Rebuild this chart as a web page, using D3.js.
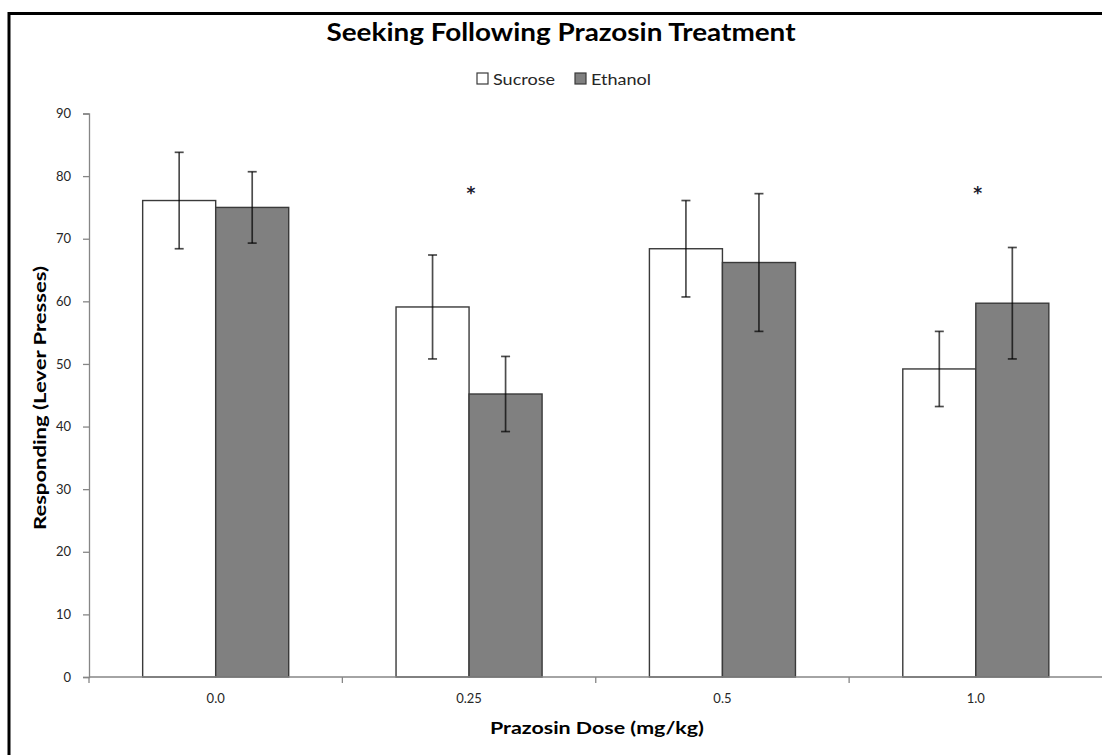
<!DOCTYPE html>
<html>
<head>
<meta charset="utf-8">
<script src="https://cdn.jsdelivr.net/npm/d3@7"></script>
<style>
  html, body { margin: 0; padding: 0; background: #fff; overflow: hidden; }
  svg { display: block; font-family: Lato, "Open Sans", sans-serif; }
</style>
</head>
<body>
<svg id="chart" width="1102" height="755"></svg>
<script>
// ---- data ----
const doses = ["0.0", "0.25", "0.5", "1.0"];
const seriesNames = ["Sucrose", "Ethanol"];
const sucrose = [76.1, 59.1, 68.4, 49.2];
const sucroseErr = [7.7, 8.3, 7.7, 6.0];
const ethanol = [75.0, 45.2, 66.2, 59.7];
const ethanolErr = [5.7, 6.0, 11.0, 8.9];
const significant = ["0.25", "1.0"];
const yTicks = [0, 10, 20, 30, 40, 50, 60, 70, 80, 90];
const titleText = "Seeking Following Prazosin Treatment";
const xTitle = "Prazosin Dose (mg/kg)";
const yTitle = "Responding (Lever Presses)";

// ---- styles ----
const fills = { Sucrose: "#ffffff", Ethanol: "#808080" };
const barStroke = "#3a3a3a";
const axisColor = "#868686";
const textColor = "#262626";

const svg = d3.select("#chart");
const W = 1102, H = 755;

// outer frame (only left and top edges are visible)
svg.append("rect").attr("x", 9).attr("y", 13.5).attr("width", W + 200).attr("height", H + 200)
  .attr("fill", "#fff").attr("stroke", "#000").attr("stroke-width", 3);

const plotLeft = 89, plotRight = 1102.5, plotTop = 113.5, plotBottom = 677;

const x0 = d3.scaleBand().domain(doses).range([plotLeft, plotRight])
  .paddingInner(0.4236).paddingOuter(0.2118);
const x1 = d3.scaleBand().domain(seriesNames).range([0, x0.bandwidth()]).padding(0);
const y = d3.scaleLinear().domain([0, 90]).range([plotBottom, plotTop]);

const rows = doses.map((d, i) => ({
  dose: d,
  vals: [
    { name: "Sucrose", v: sucrose[i], e: sucroseErr[i] },
    { name: "Ethanol", v: ethanol[i], e: ethanolErr[i] }
  ]
}));

// y axis
const yAxis = d3.axisLeft(y).tickValues(yTicks).tickSize(6).tickPadding(12).tickFormat(d3.format("d"));
const gy = svg.append("g").attr("transform", `translate(${plotLeft},0)`).call(yAxis);
gy.select(".domain").attr("stroke", axisColor).attr("stroke-width", 1.3);
gy.selectAll(".tick line").attr("stroke", axisColor).attr("stroke-width", 1.3);
gy.selectAll(".tick text").attr("fill", textColor).style("font-size", "13px")
  .style("font-family", "Lato, sans-serif");

// bars
const groups = svg.append("g").selectAll("g").data(rows).join("g")
  .attr("transform", d => `translate(${x0(d.dose)},0)`);

groups.selectAll("rect").data(d => d.vals).join("rect")
  .attr("x", d => x1(d.name))
  .attr("y", d => y(d.v))
  .attr("width", x1.bandwidth())
  .attr("height", d => y(0) - y(d.v))
  .attr("fill", d => fills[d.name])
  .attr("stroke", barStroke)
  .attr("stroke-width", 1.4);

// error bars
const capW = 9;
const eb = groups.selectAll("g.err").data(d => d.vals).join("g").attr("class", "err")
  .attr("stroke", "#000").attr("stroke-opacity", 0.7).attr("stroke-width", 1.7);
eb.append("line")
  .attr("x1", d => x1(d.name) + x1.bandwidth() / 2)
  .attr("x2", d => x1(d.name) + x1.bandwidth() / 2)
  .attr("y1", d => y(d.v + d.e))
  .attr("y2", d => y(d.v - d.e));
eb.append("line")
  .attr("x1", d => x1(d.name) + x1.bandwidth() / 2 - capW / 2)
  .attr("x2", d => x1(d.name) + x1.bandwidth() / 2 + capW / 2)
  .attr("y1", d => y(d.v + d.e)).attr("y2", d => y(d.v + d.e));
eb.append("line")
  .attr("x1", d => x1(d.name) + x1.bandwidth() / 2 - capW / 2)
  .attr("x2", d => x1(d.name) + x1.bandwidth() / 2 + capW / 2)
  .attr("y1", d => y(d.v - d.e)).attr("y2", d => y(d.v - d.e));

// x axis
const xAxisLine = svg.append("g");
xAxisLine.append("line").attr("x1", plotLeft).attr("x2", W).attr("y1", plotBottom).attr("y2", plotBottom)
  .attr("stroke", axisColor).attr("stroke-width", 1.3);
const step = x0.step();
const boundaries = doses.map((d, i) => plotLeft + i * step);
xAxisLine.selectAll("line.tk").data(boundaries).join("line").attr("class", "tk")
  .attr("x1", d => d).attr("x2", d => d).attr("y1", plotBottom).attr("y2", plotBottom + 6)
  .attr("stroke", axisColor).attr("stroke-width", 1.3);
svg.append("g").selectAll("text").data(doses).join("text")
  .attr("x", d => x0(d) + x0.bandwidth() / 2)
  .attr("y", 703)
  .attr("text-anchor", "middle")
  .attr("fill", textColor)
  .style("font-size", "13px")
  .text(d => d);

// significance asterisks
svg.append("g").selectAll("text").data(significant).join("text")
  .attr("x", d => x0(d) + x0.bandwidth() / 2 + 2)
  .attr("y", y(76.3))
  .attr("text-anchor", "middle")
  .attr("fill", "#1a1a2e")
  .style("font-family", "'DejaVu Sans', sans-serif")
  .style("font-size", "17px").style("font-weight", "bold")
  .text("*");

// title
svg.append("text").attr("x", 561).attr("y", 41).attr("text-anchor", "middle")
  .attr("fill", "#000").style("font-size", "24px").style("font-weight", "bold")
  .attr("textLength", 469).attr("lengthAdjust", "spacingAndGlyphs")
  .text(titleText);

// legend
const legend = svg.append("g");
const legendItems = [
  { name: "Sucrose", sx: 477, tx: 493, tw: 62 },
  { name: "Ethanol", sx: 575, tx: 591, tw: 60 }
];
legend.selectAll("rect").data(legendItems).join("rect")
  .attr("x", d => d.sx).attr("y", 73).attr("width", 11).attr("height", 11)
  .attr("fill", d => fills[d.name]).attr("stroke", barStroke).attr("stroke-width", 1.2);
legend.selectAll("text").data(legendItems).join("text")
  .attr("x", d => d.tx).attr("y", 84.5)
  .attr("fill", textColor).style("font-size", "15px")
  .attr("textLength", d => d.tw).attr("lengthAdjust", "spacingAndGlyphs")
  .text(d => d.name);

// axis titles
svg.append("text").attr("x", 597).attr("y", 734).attr("text-anchor", "middle")
  .attr("fill", "#000").style("font-size", "17px").style("font-weight", "bold")
  .attr("textLength", 214).attr("lengthAdjust", "spacingAndGlyphs")
  .text(xTitle);
svg.append("text").attr("transform", "translate(46,398) rotate(-90)").attr("text-anchor", "middle")
  .attr("fill", "#000").style("font-size", "17px").style("font-weight", "bold")
  .attr("textLength", 264).attr("lengthAdjust", "spacingAndGlyphs")
  .text(yTitle);
</script>
</body>
</html>
